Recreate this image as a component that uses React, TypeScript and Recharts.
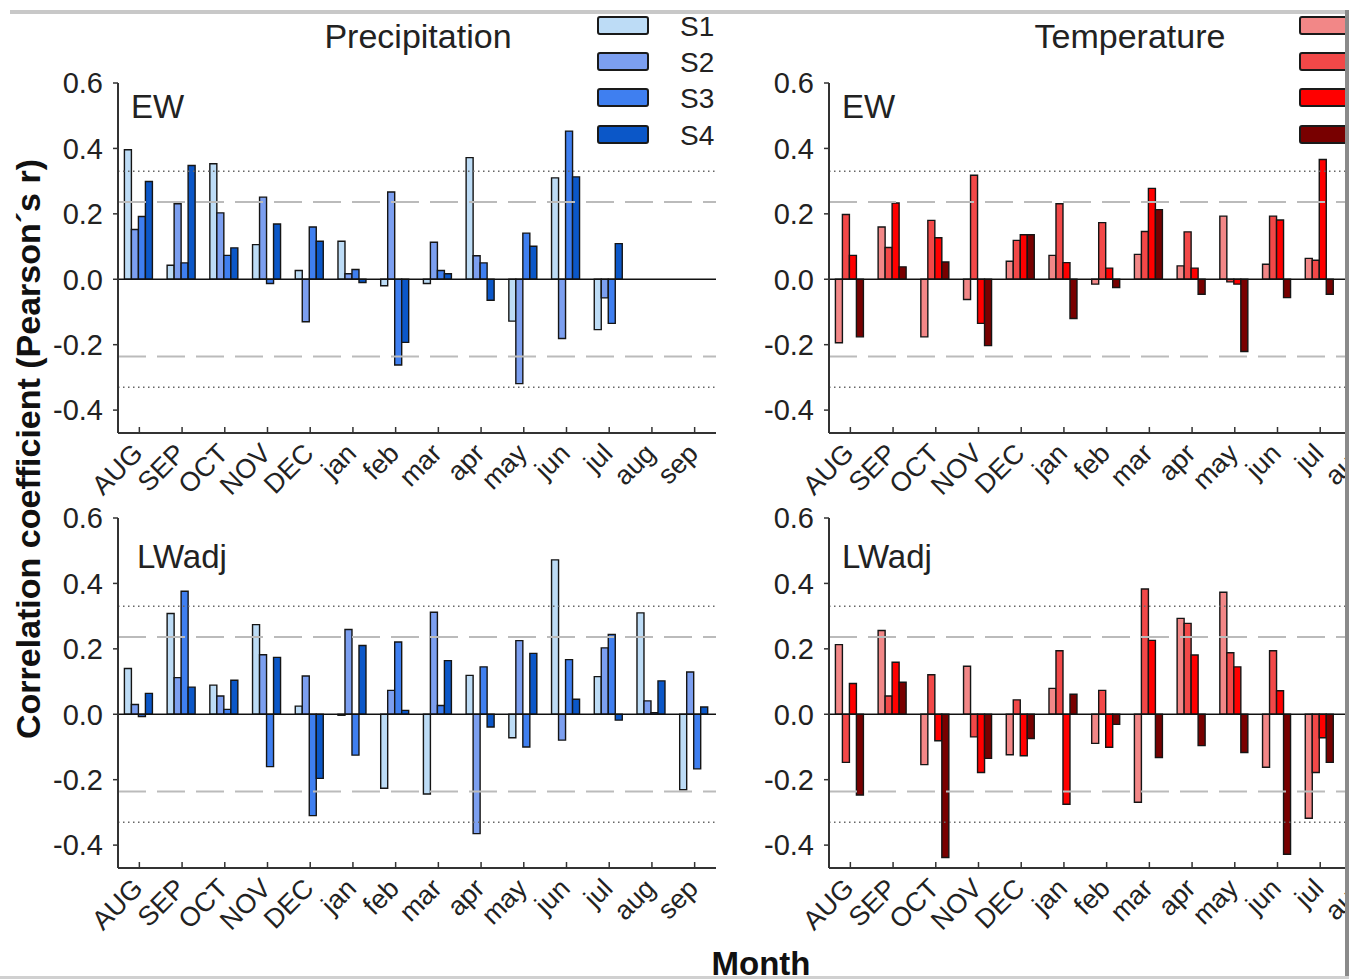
import React from "react";
import { BarChart, Bar, XAxis, YAxis, ReferenceLine } from "recharts";

const months = ["AUG", "SEP", "OCT", "NOV", "DEC", "jan", "feb", "mar", "apr", "may", "jun", "jul", "aug", "sep"];
const seriesKeys = ["S1", "S2", "S3", "S4"];
const yTicks = [-0.4, -0.2, 0, 0.2, 0.4, 0.6];
const dashedThreshold = 0.236;
const dottedThreshold = 0.33;

// Precipitation, EW
const precEW_S1 = [0.396, 0.043, 0.353, 0.106, 0.027, 0.116, -0.02, -0.013, 0.372, -0.128, 0.31, -0.154, null, null];
const precEW_S2 = [0.152, 0.231, 0.203, 0.251, -0.13, 0.017, 0.267, 0.113, 0.072, -0.319, -0.181, -0.057, null, null];
const precEW_S3 = [0.192, 0.05, 0.073, -0.013, 0.16, 0.03, -0.262, 0.027, 0.05, 0.141, 0.453, -0.135, null, null];
const precEW_S4 = [0.299, 0.348, 0.096, 0.169, 0.116, -0.01, -0.193, 0.017, -0.064, 0.101, 0.313, 0.109, null, null];

// Precipitation, LWadj
const precLW_S1 = [0.14, 0.308, 0.089, 0.274, 0.025, -0.003, -0.226, -0.244, 0.119, -0.072, 0.472, 0.115, 0.31, -0.231];
const precLW_S2 = [0.03, 0.112, 0.056, 0.182, 0.117, 0.259, 0.073, 0.312, -0.365, 0.225, -0.079, 0.203, 0.041, 0.129];
const precLW_S3 = [-0.007, 0.376, 0.015, -0.16, -0.31, -0.125, 0.221, 0.027, 0.145, -0.1, 0.167, 0.244, 0.005, -0.167];
const precLW_S4 = [0.064, 0.083, 0.104, 0.174, -0.196, 0.21, 0.012, 0.164, -0.039, 0.186, 0.046, -0.018, 0.102, 0.022];

// Temperature, EW
const tempEW_S1 = [-0.194, 0.16, -0.176, -0.062, 0.055, 0.073, -0.015, 0.076, 0.041, 0.193, 0.046, 0.064, null, null];
const tempEW_S2 = [0.198, 0.097, 0.18, 0.318, 0.119, 0.231, 0.173, 0.146, 0.145, -0.008, 0.193, 0.058, null, null];
const tempEW_S3 = [0.073, 0.233, 0.127, -0.135, 0.136, 0.051, 0.034, 0.278, 0.034, -0.015, 0.181, 0.366, null, null];
const tempEW_S4 = [-0.176, 0.038, 0.053, -0.203, 0.136, -0.12, -0.025, 0.213, -0.046, -0.221, -0.056, -0.046, null, null];

// Temperature, LWadj
const tempLW_S1 = [0.213, 0.256, -0.154, 0.147, -0.124, 0.079, -0.089, -0.269, 0.293, 0.373, -0.162, -0.318, null, null];
const tempLW_S2 = [-0.147, 0.056, 0.121, -0.069, 0.044, 0.194, 0.073, 0.383, 0.278, 0.188, 0.194, -0.178, null, null];
const tempLW_S3 = [0.094, 0.159, -0.081, -0.178, -0.127, -0.275, -0.101, 0.226, 0.181, 0.145, 0.072, -0.072, null, null];
const tempLW_S4 = [-0.247, 0.098, -0.438, -0.135, -0.074, 0.061, -0.031, -0.132, -0.096, -0.117, -0.428, -0.147, null, null];

const blueColors = ["#bddcf6", "#7c9ff0", "#3f7ff0", "#0b57c8"];
const redColors = ["#f28787", "#f24848", "#ff0000", "#780000"];

const FONT = "'Liberation Sans', Arial, sans-serif";

function buildRows(s1: (number | null)[], s2: (number | null)[], s3: (number | null)[], s4: (number | null)[]) {
  return months.map((m, i) => ({ month: m, S1: s1[i], S2: s2[i], S3: s3[i], S4: s4[i] }));
}

const precEW = buildRows(precEW_S1, precEW_S2, precEW_S3, precEW_S4);
const precLW = buildRows(precLW_S1, precLW_S2, precLW_S3, precLW_S4);
const tempEW = buildRows(tempEW_S1, tempEW_S2, tempEW_S3, tempEW_S4);
const tempLW = buildRows(tempLW_S1, tempLW_S2, tempLW_S3, tempLW_S4);

const XTick = (props: any) => {
  const { x, y, payload } = props;
  const tx = x + 5;
  const ty = y + 22;
  return (
    <g>
      <line x1={x} x2={x} y1={y} y2={y - 6} stroke="#333" strokeWidth={1.5} />
      <text x={tx} y={ty} transform={`rotate(-45 ${tx} ${ty})`} textAnchor="end" fontSize={27} fill="#222" fontFamily={FONT}>
        {payload.value}
      </text>
    </g>
  );
};

function Panel({ data, colors, left, top }: { data: any[]; colors: string[]; left: number; top: number }) {
  return (
    <div style={{ position: "absolute", left, top }}>
      <BarChart width={760} height={520} data={data} margin={{ top: 83, right: 44, bottom: 7, left: 0 }} barCategoryGap="15%" barGap={0}>
        <XAxis
          dataKey="month"
          interval={0}
          height={80}
          tick={<XTick />}
          tickLine={false}
          tickSize={0}
          tickMargin={0}
          axisLine={{ stroke: "#333", strokeWidth: 2 }}
        />
        <YAxis
          type="number"
          domain={[-0.47, 0.6]}
          allowDataOverflow
          ticks={yTicks}
          width={118}
          tickSize={5}
          tickMargin={10}
          tickFormatter={(v: number) => v.toFixed(1)}
          tick={{ fill: "#222", fontSize: 29, fontFamily: FONT }}
          tickLine={{ stroke: "#333", strokeWidth: 1.5 }}
          axisLine={{ stroke: "#333", strokeWidth: 2 }}
        />
        <ReferenceLine y={dottedThreshold} stroke="#666" strokeWidth={1.5} strokeDasharray="1.5 3.5" />
        <ReferenceLine y={-dottedThreshold} stroke="#666" strokeWidth={1.5} strokeDasharray="1.5 3.5" />
        <ReferenceLine y={dashedThreshold} stroke="#bbb" strokeWidth={2} strokeDasharray="28 11" />
        <ReferenceLine y={-dashedThreshold} stroke="#bbb" strokeWidth={2} strokeDasharray="28 11" />
        {seriesKeys.map((k, i) => (
          <Bar key={k} dataKey={k} fill={colors[i]} stroke="#151515" strokeWidth={1.4} isAnimationActive={false} />
        ))}
        <ReferenceLine y={0} stroke="#111" strokeWidth={1.5} />
      </BarChart>
    </div>
  );
}

function Legend({ x, colors }: { x: number; colors: string[] }) {
  const ys = [17, 53, 89, 126];
  return (
    <g>
      {seriesKeys.map((k, i) => (
        <g key={k}>
          <rect x={x} y={ys[i]} width={50} height={17} rx={2} fill={colors[i]} stroke="#1a1a1a" strokeWidth={2} />
          <text x={x + 82} y={ys[i] + 9} dominantBaseline="central" fontSize={28} fill="#222" fontFamily={FONT}>
            {k}
          </text>
        </g>
      ))}
    </g>
  );
}

export default function App() {
  return (
    <div style={{ position: "absolute", left: 0, top: 0, width: 1357, height: 979, overflow: "hidden", background: "#fff", fontFamily: FONT }}>
      <Panel data={precEW} colors={blueColors} left={0} top={0} />
      <Panel data={precLW} colors={blueColors} left={0} top={435} />
      <Panel data={tempEW} colors={redColors} left={711} top={0} />
      <Panel data={tempLW} colors={redColors} left={711} top={435} />
      <svg width={1357} height={979} style={{ position: "absolute", left: 0, top: 0, pointerEvents: "none" }}>
        <text x={418} y={48} textAnchor="middle" fontSize={34} fill="#222" fontFamily={FONT}>Precipitation</text>
        <text x={1130} y={48} textAnchor="middle" fontSize={34} fill="#222" fontFamily={FONT}>Temperature</text>
        <Legend x={598} colors={blueColors} />
        <Legend x={1300} colors={redColors} />
        <text x={131} y={118} fontSize={33} fill="#222" fontFamily={FONT}>EW</text>
        <text x={842} y={118} fontSize={33} fill="#222" fontFamily={FONT}>EW</text>
        <text x={137} y={568} fontSize={33} fill="#222" fontFamily={FONT}>LWadj</text>
        <text x={842} y={568} fontSize={33} fill="#222" fontFamily={FONT}>LWadj</text>
        <text
          x={40}
          y={449}
          transform="rotate(-90 40 449)"
          textAnchor="middle"
          fontSize={34}
          fontWeight="bold"
          fill="#111"
          fontFamily={FONT}
        >
          Correlation coefficient (Pearson´s r)
        </text>
        <text x={761} y={975} textAnchor="middle" fontSize={33} fontWeight="bold" fill="#111" fontFamily={FONT}>Month</text>
        <rect x={1346} y={0} width={11} height={979} fill="#fff" />
        <rect x={10} y={10} width={1338} height={4} fill="#c8c8c8" />
        <rect x={1345} y={10} width={4} height={969} fill="#8a8a8a" />
        <rect x={0} y={976} width={1349} height={3} fill="#d0d0d0" />
      </svg>
    </div>
  );
}
